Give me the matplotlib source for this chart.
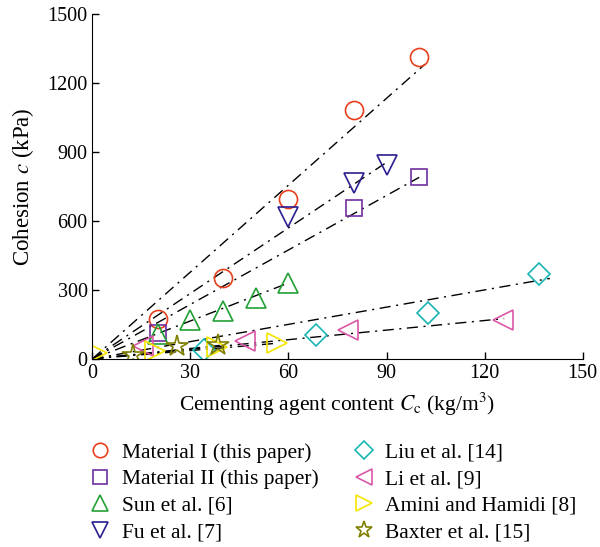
import matplotlib
matplotlib.use("Agg")
import matplotlib.pyplot as plt
import numpy as np

plt.rcParams['font.family'] = ['Liberation Serif', 'DejaVu Serif']
plt.rcParams['mathtext.fontset'] = 'stix'

# data
labels = ["Material I (this paper)", "Material II (this paper)", "Sun et al. [6]",
          "Fu et al. [7]", "Liu et al. [14]", "Li et al. [9]",
          "Amini and Hamidi [8]", "Baxter et al. [15]"]
x_mat1 = [20, 40, 60, 80, 100]
y_mat1 = [174, 350, 696, 1085, 1315]
x_mat2 = [20, 80, 100]
y_mat2 = [113, 655, 790]
x_sun = [20, 30, 40, 50, 60]
y_sun = [108, 171, 208, 266, 332]
x_fu = [60, 80, 90]
y_fu = [617, 767, 844]
x_liu = [34.2, 68.4, 102.6, 136.7]
y_liu = [37, 105, 200, 369]
x_li = [15.6, 46.7, 78.3, 125.7]
y_li = [54, 76, 124, 168]
x_amini = [1.5, 19.2, 38, 56.4]
y_amini = [25, 32, 50, 69]
x_baxter = [12.5, 25.8, 38.5]
y_baxter = [18, 54, 61]

# fitted trend lines: slope and end of each line
fit_slopes = [12.6, 7.9, 5.5, 9.5, 2.5, 1.39, 1.2, 1.5]
fit_ends = [101.8, 100, 60, 90, 140, 126, 56, 39]

markers = ['o', 's', '^', 'v', 'D', '<', '>', '*']
colors = ['#e8401c', '#7030a0', '#22a033', '#2a1f8f', '#1ab5b5', '#d957a8', '#f5e400', '#808000']
sizes = [13, 12, 15, 15, 11, 15, 15, 16]

xs = [x_mat1, x_mat2, x_sun, x_fu, x_liu, x_li, x_amini, x_baxter]
ys = [y_mat1, y_mat2, y_sun, y_fu, y_liu, y_li, y_amini, y_baxter]

fig = plt.figure(figsize=(6, 5.47), dpi=100)
ax = fig.add_axes([0.154, 0.344, 0.817, 0.63])

for k in range(len(labels)):
    xl = np.array([0, fit_ends[k]])
    ax.plot(xl, fit_slopes[k] * xl, color='black', lw=1.0, ls=(0, (8, 4, 1.5, 4)), zorder=1)

handles = []
for k in range(len(labels)):
    h, = ax.plot(xs[k], ys[k], ls='none', marker=markers[k], ms=sizes[k],
                 mfc='none', mec=colors[k], mew=1.2, label=labels[k], zorder=2)
    handles.append(h)

ax.set_xlim(0, 150)
ax.set_ylim(0, 1500)
ax.set_xticks([0, 30, 60, 90, 120, 150])
ax.set_yticks([0, 300, 600, 900, 1200, 1500])
ax.spines['top'].set_visible(False)
ax.spines['right'].set_visible(False)
ax.tick_params(direction='in', length=5, labelsize=14.5, width=1)
ax.set_xlabel(r"Cementing agent content $C_\mathrm{c}$ (kg/m$^3$)", fontsize=15.5, labelpad=6)
ax.set_ylabel(r"Cohesion $c$ (kPa)", fontsize=16.5, labelpad=8)

leg = fig.legend(handles, labels,
                 loc='upper left', bbox_to_anchor=(0.113, 0.226), ncol=2,
                 frameon=False, fontsize=15.5, handletextpad=0.4, columnspacing=1.5,
                 labelspacing=0.3, markerscale=0.8, handlelength=1.2)

fig.savefig("out.png", dpi=100)
